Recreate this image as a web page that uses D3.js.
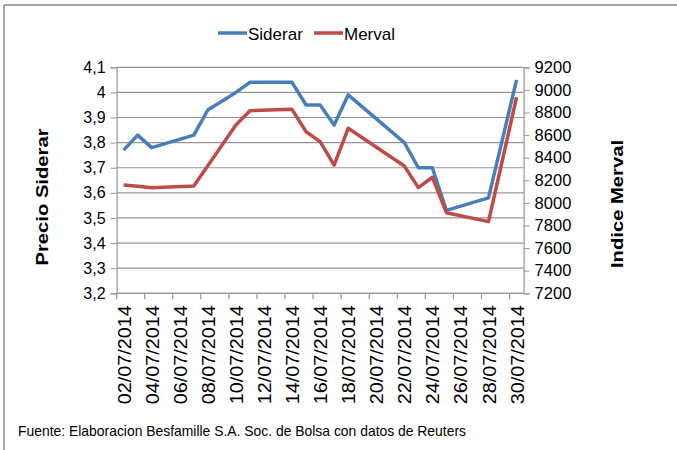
<!DOCTYPE html>
<html>
<head>
<meta charset="utf-8">
<script src="https://cdn.jsdelivr.net/npm/d3@7"></script>
<style>
  body { margin: 0; background: #fff; }
  text { font-family: Arial, 'Liberation Sans', sans-serif; fill: #000; }
</style>
</head>
<body>
<svg id="chart" width="677" height="450"></svg>
<script>
// trading days of July 2014 (day of month)
const days = [2, 3, 4, 7, 8, 10, 11, 14, 15, 16, 17, 18, 22, 23, 24, 25, 28, 30];
const siderar = [3.77, 3.83, 3.78, 3.83, 3.93, 4.0, 4.04, 4.04, 3.95, 3.95, 3.87, 3.99, 3.80, 3.70, 3.70, 3.53, 3.58, 4.05];
const merval = [8158, 8147, 8135, 8150, 8328, 8689, 8816, 8828, 8630, 8542, 8335, 8660, 8327, 8135, 8227, 7913, 7834, 8935];
const tickDays = d3.range(2, 31, 2);
const leftTicks = d3.range(3.2, 4.101, 0.1);
const rightTicks = d3.range(7200, 9201, 200);

const svg = d3.select('#chart');
const plotLeft = 116.6, plotRight = 523.6, plotTop = 67.3, plotBottom = 293.3;

// outer frame (top and left edges only visible)
svg.append('line').attr('x1', 4).attr('y1', 5).attr('x2', 677).attr('y2', 5)
  .attr('stroke', '#a6a6a6').attr('stroke-width', 2);
svg.append('line').attr('x1', 4).attr('y1', 5).attr('x2', 4).attr('y2', 450)
  .attr('stroke', '#a6a6a6').attr('stroke-width', 2);

// each day is a band, points in the middle
const x = d3.scaleBand().domain(d3.range(2, 31)).range([plotLeft, plotRight]);
const xc = (d) => x(d) + x.bandwidth() / 2;
const yL = d3.scaleLinear().domain([3.2, 4.1]).range([plotBottom, plotTop]);
const yR = d3.scaleLinear().domain([7200, 9200]).range([plotBottom, plotTop]);

const grey = '#969696';

// gridlines
svg.append('g')
  .selectAll('line')
  .data(leftTicks)
  .join('line')
  .attr('x1', plotLeft).attr('x2', plotRight)
  .attr('y1', (d) => yL(d)).attr('y2', (d) => yL(d))
  .attr('stroke', grey).attr('stroke-width', 1.2);

// left axis
const axL = svg.append('g').attr('transform', `translate(${plotLeft},0)`)
  .call(d3.axisLeft(yL).tickValues(leftTicks).tickSize(6).tickPadding(5)
    .tickFormat((d) => d3.format('.1f')(d).replace('.', ',').replace(',0', '')));
axL.select('.domain').attr('stroke', grey).attr('stroke-width', 1.2);
axL.selectAll('.tick line').attr('stroke', grey);
axL.selectAll('text').style('font-size', '16px').attr('fill', '#000');

// right axis
const axR = svg.append('g').attr('transform', `translate(${plotRight},0)`)
  .call(d3.axisRight(yR).tickValues(rightTicks).tickSize(6).tickPadding(5)
    .tickFormat(d3.format('d')));
axR.select('.domain').attr('stroke', grey).attr('stroke-width', 1.2);
axR.selectAll('.tick line').attr('stroke', grey);
axR.selectAll('text').style('font-size', '16.5px').attr('fill', '#000');

// bottom axis: ticks on band edges every 2 days
svg.append('line').attr('x1', plotLeft).attr('x2', plotRight).attr('y1', plotBottom).attr('y2', plotBottom)
  .attr('stroke', grey).attr('stroke-width', 1.2);
svg.append('g')
  .selectAll('line')
  .data(tickDays)
  .join('line')
  .attr('x1', (d) => x(d)).attr('x2', (d) => x(d))
  .attr('y1', plotBottom).attr('y2', plotBottom + 6)
  .attr('stroke', grey).attr('stroke-width', 1.2);

svg.append('g')
  .selectAll('text')
  .data(tickDays)
  .join('text')
  .attr('transform', (d) => `translate(${xc(d) + 7},${plotBottom + 12}) rotate(-90)`)
  .attr('text-anchor', 'end')
  .style('font-size', '19px')
  .attr('textLength', 99)
  .attr('lengthAdjust', 'spacingAndGlyphs')
  .text((d) => `${String(d).padStart(2, '0')}/07/2014`);

// series lines
const lineS = d3.line().x((d, i) => xc(days[i])).y((d) => yL(d));
const lineM = d3.line().x((d, i) => xc(days[i])).y((d) => yR(d));

svg.append('path').datum(siderar).attr('d', lineS)
  .attr('fill', 'none').attr('stroke', '#4a7ebb').attr('stroke-width', 3.5)
  .attr('stroke-linejoin', 'round');
svg.append('path').datum(merval).attr('d', lineM)
  .attr('fill', 'none').attr('stroke', '#be4b48').attr('stroke-width', 3.5)
  .attr('stroke-linejoin', 'round');

// axis titles
svg.append('text')
  .attr('transform', 'translate(48,197) rotate(-90)')
  .attr('text-anchor', 'middle')
  .style('font-size', '17px').style('font-weight', 'bold')
  .attr('textLength', 137).attr('lengthAdjust', 'spacingAndGlyphs')
  .text('Precio Siderar');
svg.append('text')
  .attr('transform', 'translate(623,204) rotate(-90)')
  .attr('text-anchor', 'middle')
  .style('font-size', '17px').style('font-weight', 'bold')
  .attr('textLength', 128).attr('lengthAdjust', 'spacingAndGlyphs')
  .text('Indice Merval');

// legend
const legend = [
  { name: 'Siderar', color: '#4a7ebb', x: 218 },
  { name: 'Merval', color: '#be4b48', x: 314 }
];
legend.forEach((l) => {
  svg.append('line').attr('x1', l.x).attr('x2', l.x + 29).attr('y1', 33).attr('y2', 33)
    .attr('stroke', l.color).attr('stroke-width', 3.5);
  svg.append('text').attr('x', l.x + 30).attr('y', 39.5)
    .style('font-size', '17px').text(l.name);
});

// footer
svg.append('text').attr('x', 18).attr('y', 436)
  .style('font-size', '15px')
  .attr('textLength', 448).attr('lengthAdjust', 'spacingAndGlyphs')
  .text('Fuente: Elaboracion Besfamille S.A. Soc. de Bolsa con datos de Reuters');
</script>
</body>
</html>
